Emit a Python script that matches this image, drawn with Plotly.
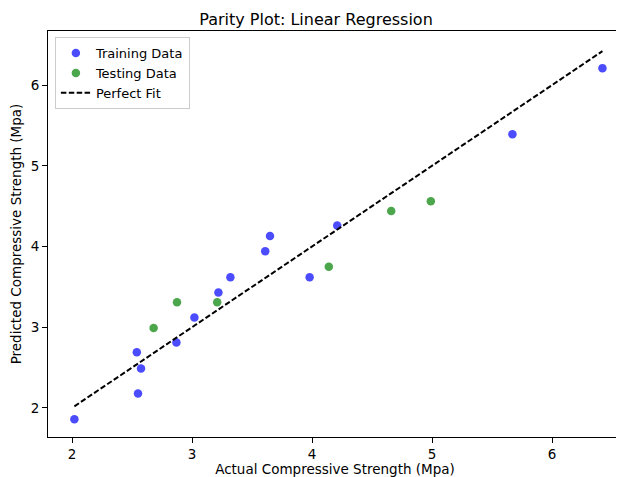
import plotly.graph_objects as go

train_actual = [2.02, 2.54, 2.575, 2.55, 2.87, 3.02, 3.22, 3.32, 3.61, 3.65, 3.98, 4.21, 5.67, 6.42]
train_pred = [1.86, 2.69, 2.49, 2.18, 2.81, 3.12, 3.43, 3.62, 3.94, 4.13, 3.62, 4.26, 5.39, 6.21]
test_actual = [2.68, 2.875, 3.21, 4.14, 4.66, 4.99]
test_pred = [2.99, 3.31, 3.31, 3.75, 4.44, 4.56]

all_actual = train_actual + test_actual
lo, hi = min(all_actual), max(all_actual)

font = "DejaVu Sans, Arial, sans-serif"
W, H = 616, 469
fig = go.Figure()
fig.add_trace(go.Scatter(x=train_actual, y=train_pred, mode="markers", name="Training Data",
                         marker=dict(color="rgba(0,0,255,0.7)", size=8.5, line=dict(width=0))))
fig.add_trace(go.Scatter(x=test_actual, y=test_pred, mode="markers", name="Testing Data",
                         marker=dict(color="rgba(0,128,0,0.7)", size=8.5, line=dict(width=0))))
fig.add_trace(go.Scatter(x=[lo, hi], y=[lo, hi], mode="lines", name="Perfect Fit",
                         line=dict(color="black", width=2, dash="5.5px,2.4px")))

axis_common = dict(showline=True, linecolor="black", linewidth=1, mirror=True, ticks="outside",
                   ticklen=5, tickcolor="black", showgrid=False, zeroline=False, automargin=False,
                   tickfont=dict(family=font, size=13.5, color="black"))
fig.update_layout(
    width=W, height=H,
    margin=dict(l=40, r=2, t=23, b=40),
    paper_bgcolor="white", plot_bgcolor="white",
    title=dict(text="Parity Plot: Linear Regression", x=0.5, xanchor="center",
               y=1 - 11 / H, yanchor="middle",
               font=dict(family=font, size=16, color="black")),
    xaxis=dict(range=[1.8, 6.583], dtick=1, tick0=0,
               title=dict(text="Actual Compressive Strength (Mpa)", standoff=5,
                          font=dict(family=font, size=13.5, color="black")), **axis_common),
    yaxis=dict(range=[1.64, 6.67], dtick=1, tick0=0,
               title=dict(text="Predicted Compressive Strength (Mpa)", standoff=6,
                          font=dict(family=font, size=13.5, color="black")), **axis_common),
    legend=dict(x=0.012, y=0.985, xanchor="left", yanchor="top", bgcolor="rgba(255,255,255,0.8)",
                bordercolor="#cccccc", borderwidth=1, font=dict(family=font, size=13, color="black"),
                tracegroupgap=0, itemwidth=30),
    showlegend=True,
)
fig.write_html("out.html")
